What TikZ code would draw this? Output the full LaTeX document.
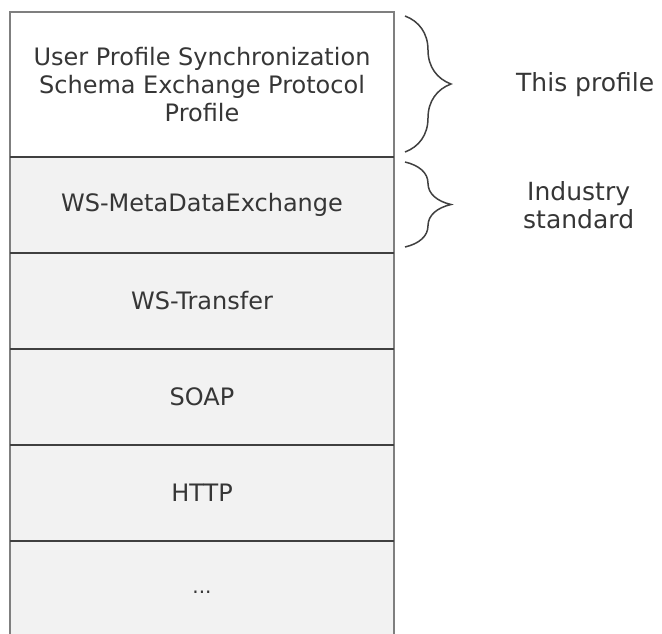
\documentclass[tikz,border=0pt]{standalone}
\usepackage{fontspec}
\setmainfont{DejaVu Sans}
\usetikzlibrary{positioning,decorations.pathreplacing}

\definecolor{layerfill}{HTML}{F2F2F2}
\definecolor{edgegrey}{HTML}{7F7F7F}
\definecolor{linegrey}{HTML}{404040}
\definecolor{textgrey}{HTML}{363636}

\begin{document}
\begin{tikzpicture}[x=1pt,y=1pt,node distance=0pt,
    layer/.style={draw=edgegrey, line width=2.5pt, fill=layerfill, text=textgrey,
      minimum width=384pt, minimum height=96pt, inner sep=0pt, outer sep=0pt,
      font=\fontsize{24}{28}\selectfont, align=center},
    sep/.style={draw=linegrey, line width=2.5pt},
    bracket/.style={draw=linegrey, line width=1.5pt, decorate,
      decoration={brace, amplitude=46pt}},
    note/.style={text=textgrey, inner sep=0pt, font=\fontsize{25}{28}\selectfont, align=center}]
    \clip (0,0) rectangle (662,-633);

    \node[layer, fill=white, minimum height=145pt, anchor=north west] (p1) at (10,-12)
      {User Profile Synchronization\\Schema Exchange Protocol\\Profile};
    \node[layer, below=of p1] (p2) {WS-MetaDataExchange};
    \node[layer, below=of p2] (p3) {WS-Transfer};
    \node[layer, below=of p3] (p4) {SOAP};
    \node[layer, below=of p4] (p5) {HTTP};
    \node[layer, below=of p5] (p6) {\raisebox{-8pt}{\fontsize{20}{24}\selectfont...}};

    \foreach \n in {p2,p3,p4,p5,p6}
      \draw[sep] (\n.north west) -- (\n.north east);

    \draw[bracket] ([xshift=11pt,yshift=-4pt]p1.north east) -- ([xshift=11pt,yshift=5pt]p1.south east);
    \draw[bracket] ([xshift=11pt,yshift=-5pt]p2.north east) -- ([xshift=11pt,yshift=6pt]p2.south east);

    \node[note, right=122pt of p1] (self) {This profile};
    \node[note, right=129pt of p2] (std) {Industry\\standard};
  \end{tikzpicture}
\end{document}
